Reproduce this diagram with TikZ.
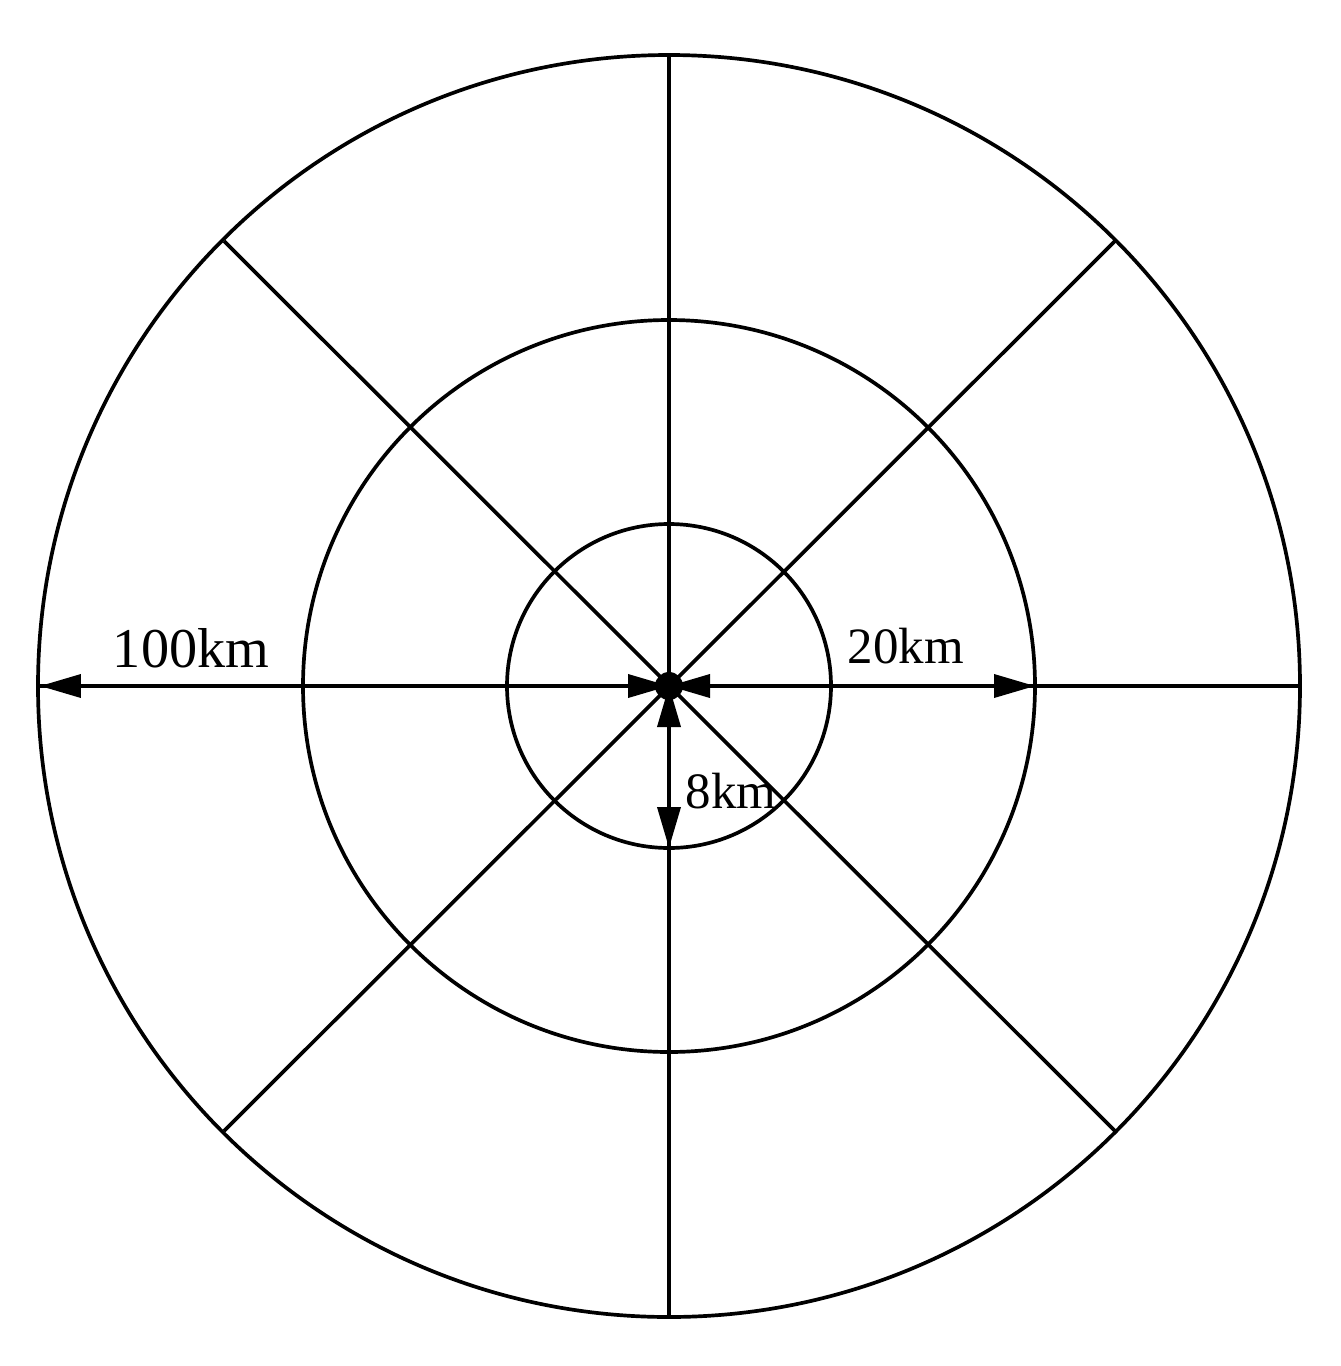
\documentclass[tikz,border=0pt]{standalone}
\usepackage{fontspec}
\setmainfont{Liberation Serif}
\usetikzlibrary{arrows.meta}
\begin{document}
\begin{tikzpicture}[x=0.02cm,y=-0.02cm,
  ln/.style={line width=2.1pt,black},
  dim/.style={line width=2.1pt,black,{Triangle[length=0.82cm,width=0.46cm]}-{Triangle[length=0.82cm,width=0.46cm]}},
  lbl/.style={inner sep=0pt,font=\fontsize{29}{29}\selectfont}]
\useasboundingbox (0,0) rectangle (1340,1366);
\fill[white] (0,0) rectangle (1340,1366);
\coordinate (O) at (669,686);
% circles
\draw[ln] (O) circle[radius=631*0.02cm];
\draw[ln] (O) circle[radius=366*0.02cm];
\draw[ln] (O) circle[radius=162*0.02cm];
% radial lines
\coordinate (N) at (669,55);
\coordinate (S) at (669,1315);
\coordinate (W) at (38,686);
\coordinate (E) at (1300,686);
\coordinate (NW) at (224,241);
\coordinate (NE) at (1115,241);
\coordinate (SW) at (224,1131);
\coordinate (SE) at (1115,1131);
\draw[ln] (N) -- (S);
\draw[ln] (W) -- (E);
\draw[ln] (NW) -- (SE);
\draw[ln] (NE) -- (SW);
% dimension arrows
\coordinate (A100) at (40,686);
\coordinate (A20) at (1035,686);
\coordinate (A8) at (669,848);
\draw[dim] (O) -- (A100);
\draw[dim] (O) -- (A20);
\draw[dim] (O) -- (A8);
% centre dot
\node[circle,fill=black,minimum size=0.56cm,inner sep=0pt] (dot) at (O) {};
% labels
\node[lbl,font=\fontsize{32}{32}\selectfont] (l100) at (191,648) {100km};
\node[lbl] (l20) at (906,646) {20km};
\node[lbl] (l8) at (731,791) {8km};
\end{tikzpicture}
\end{document}
